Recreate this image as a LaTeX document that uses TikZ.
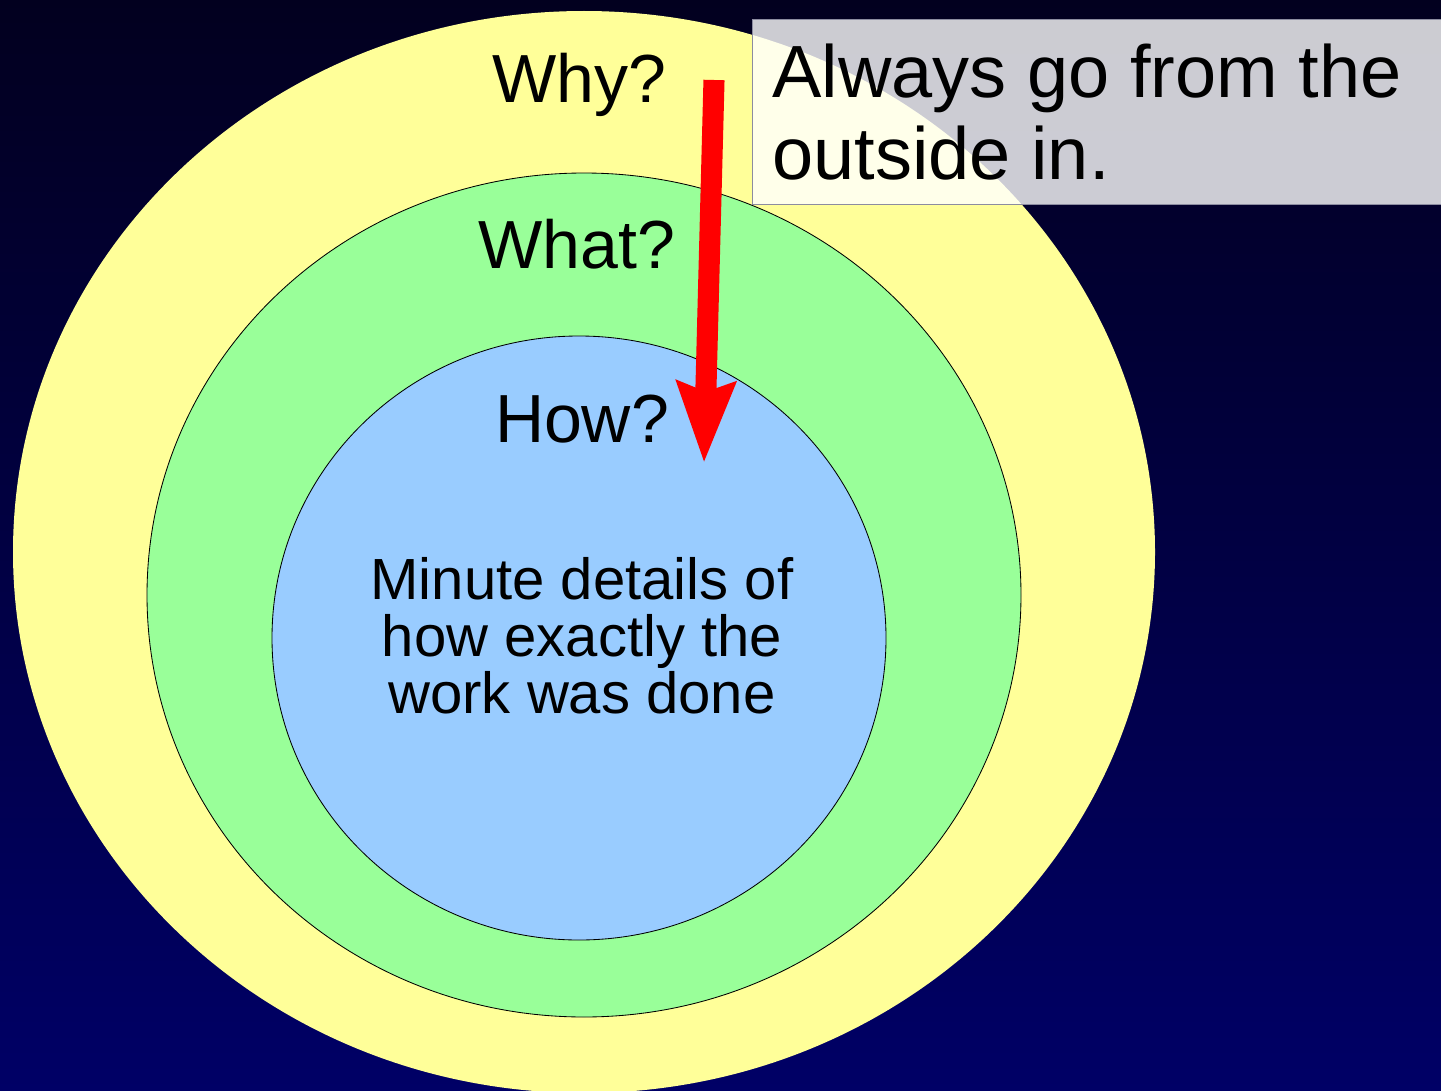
\documentclass[tikz,border=0pt]{standalone}
\usepackage{fontspec}
\setmainfont{Liberation Sans}
\usetikzlibrary{arrows.meta}
\definecolor{navytop}{HTML}{02001F}
\definecolor{navybot}{HTML}{000066}
\definecolor{whyfill}{HTML}{FFFF99}
\definecolor{whatfill}{HTML}{99FF99}
\definecolor{howfill}{HTML}{99CCFF}
\definecolor{noteline}{HTML}{8C8CA0}
\definecolor{flowred}{HTML}{FF0000}
\tikzset{
  ring/.style={draw=black,line width=0.6pt},
  ringlabel/.style={font=\fontsize{48.4}{58}\selectfont,text=black,
    inner sep=0pt,anchor=base},
  bodytext/.style={font=\fontsize{41.3}{40.5}\selectfont,text=black,
    align=center,inner sep=0pt},
  notebox/.style={rectangle,fill=white,fill opacity=0.8,text opacity=1,
    draw=noteline,line width=0.7pt,anchor=north west,align=flush left,
    font=\fontsize{52.6}{58.3}\selectfont,text=black,
    minimum width=17.5cm,minimum height=4.625cm,text width=16.5cm,
    inner xsep=0.5cm,inner ysep=0pt},
  flowarr/.style={-{Stealth[length=57pt,width=40.5pt,inset=6.5pt]},
    line width=15pt,color=flowred},
}
\begin{document}
\begin{tikzpicture}[x=0.025cm,y=-0.025cm]
  \useasboundingbox (0,0) rectangle (1441,1091);
  \clip (0,0) rectangle (1441,1091);
  \shade[top color=navytop,bottom color=navybot] (0,0) rectangle (1441,1091);

  % the three rings, outside in
  \fill[whyfill] (584,552) ellipse [x radius=571,y radius=541];
  \filldraw[ring,fill=whatfill] (584,595) ellipse [x radius=437,y radius=422];
  \filldraw[ring,fill=howfill] (579,638) ellipse [x radius=307,y radius=302];

  \node[ringlabel] (why) at (579,102) {Why?};
  \node[ringlabel] (what) at (577,268) {What?};
  \node[ringlabel] (how) at (582,442) {How?};
  \node[bodytext] (details) at (582,636) {Minute details of\\how exactly the\\work was done};

  \node[notebox] (note) at (752,19) {Always go from the\\outside in.};

  \coordinate (arrowstart) at (714,80);
  \coordinate (arrowtip) at (704,463);
  \draw[flowarr] (arrowstart) -- (arrowtip);
\end{tikzpicture}
\end{document}
